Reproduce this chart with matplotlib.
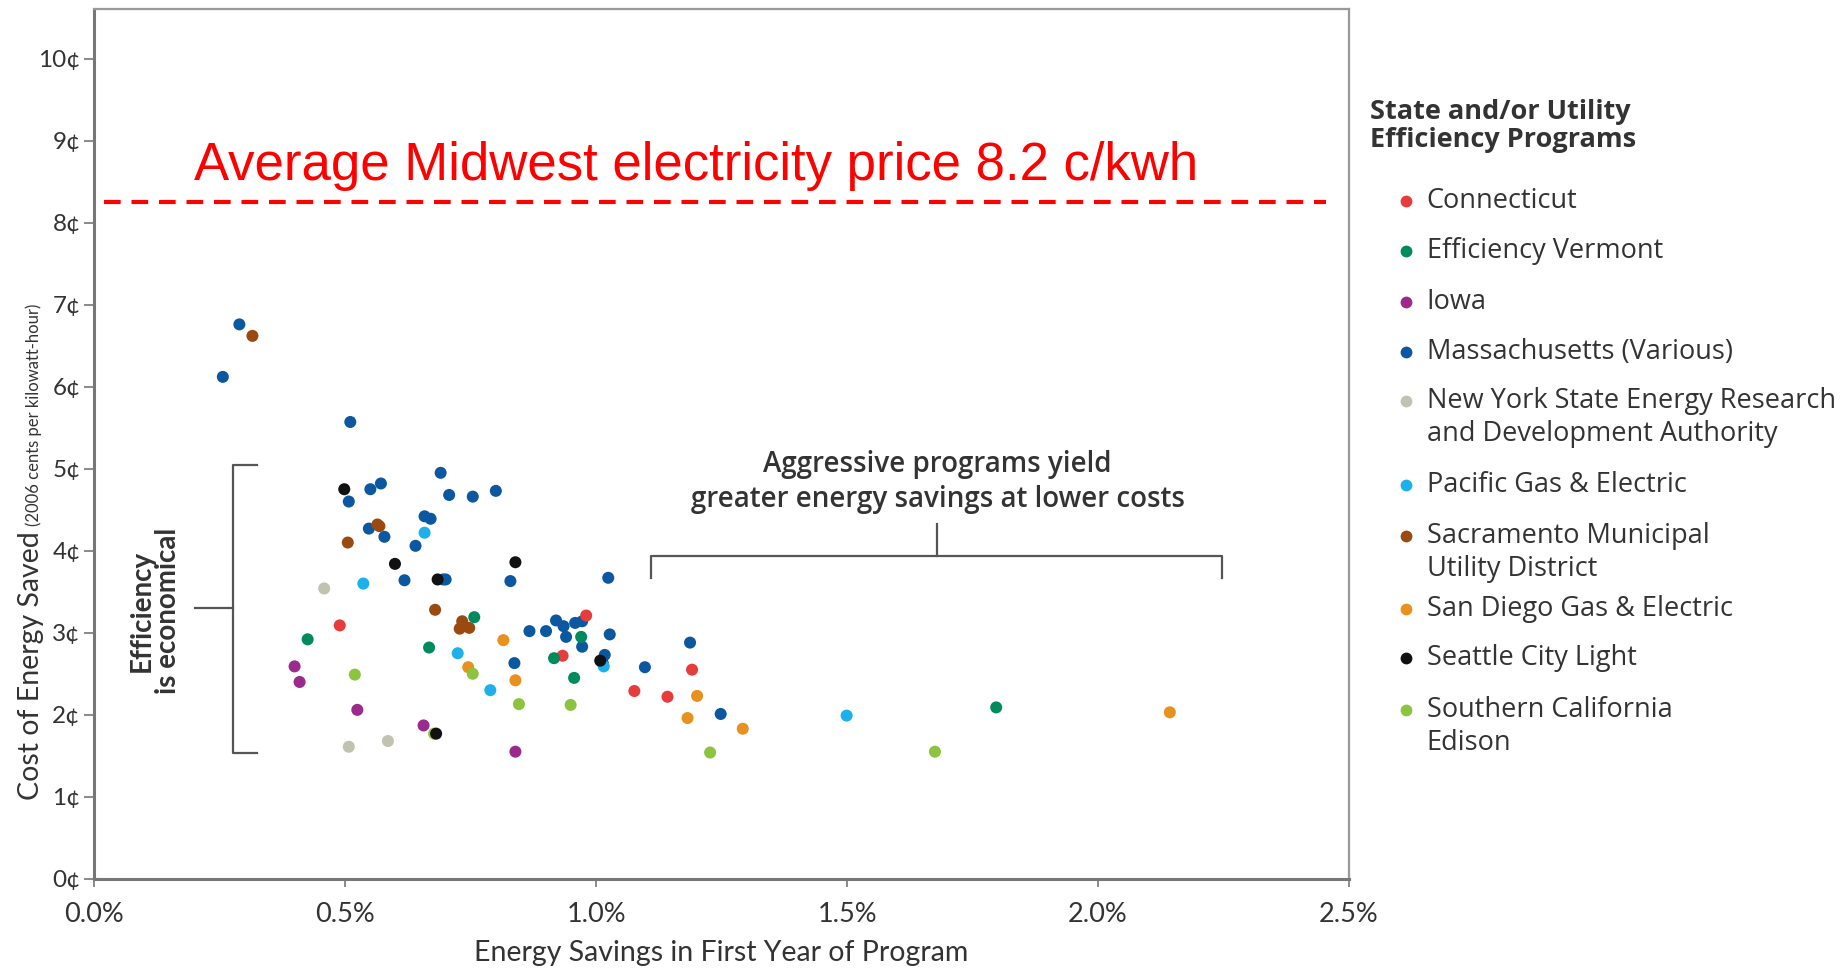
import numpy as np
import matplotlib.pyplot as plt
from matplotlib.lines import Line2D

plt.rcParams['font.family'] = ['Lato', 'DejaVu Sans']

# energy savings in first year (%) / cost of energy saved (cents per kWh)
ct_x = [0.489, 0.98, 0.933, 1.076, 1.142, 1.191]
ct_y = [3.09, 3.21, 2.72, 2.29, 2.22, 2.55]
vt_x = [0.425, 0.757, 0.667, 0.916, 0.97, 0.956, 1.797]
vt_y = [2.92, 3.19, 2.82, 2.69, 2.95, 2.45, 2.09]
ia_x = [0.399, 0.409, 0.524, 0.656, 0.839]
ia_y = [2.59, 2.40, 2.06, 1.87, 1.55]
ma_x = [0.256, 0.289, 0.51, 0.507, 0.55, 0.571, 0.547, 0.578, 0.69, 0.707,
        0.754, 0.80, 0.658, 0.67, 0.64, 0.618, 0.695, 0.70, 0.829, 0.837,
        0.867, 0.90, 0.92, 0.935, 0.94, 0.958, 0.972, 0.972, 1.024, 1.027,
        1.017, 1.013, 1.097, 1.187, 1.248]
ma_y = [6.12, 6.76, 5.57, 4.60, 4.75, 4.82, 4.27, 4.17, 4.95, 4.68,
        4.66, 4.73, 4.42, 4.39, 4.06, 3.64, 3.65, 3.65, 3.63, 2.63,
        3.02, 3.02, 3.15, 3.08, 2.95, 3.12, 3.14, 2.83, 3.67, 2.98,
        2.73, 2.63, 2.58, 2.88, 2.01]
ny_x = [0.458, 0.507, 0.585]
ny_y = [3.54, 1.61, 1.68]
pge_x = [0.536, 0.658, 0.724, 0.789, 1.015, 1.499]
pge_y = [3.60, 4.22, 2.75, 2.30, 2.59, 1.99]
smud_x = [0.315, 0.505, 0.564, 0.568, 0.679, 0.733, 0.728, 0.747]
smud_y = [6.62, 4.10, 4.32, 4.30, 3.28, 3.14, 3.05, 3.06]
sdge_x = [0.815, 0.839, 0.745, 1.182, 1.201, 1.292, 2.143]
sdge_y = [2.91, 2.42, 2.58, 1.96, 2.23, 1.83, 2.03]
scl_x = [0.498, 0.599, 0.839, 0.684, 0.681, 1.008]
scl_y = [4.75, 3.84, 3.86, 3.65, 1.77, 2.66]
sce_x = [0.519, 0.754, 0.677, 0.846, 0.949, 1.227, 1.675]
sce_y = [2.49, 2.50, 1.77, 2.13, 2.12, 1.54, 1.55]

programs = ['Connecticut', 'Efficiency Vermont', 'Iowa', 'Massachusetts (Various)',
            'New York State Energy Research\nand Development Authority',
            'Pacific Gas & Electric', 'Sacramento Municipal\nUtility District',
            'San Diego Gas & Electric', 'Seattle City Light',
            'Southern California\nEdison']
colors = ['#e63c3c', '#008a5e', '#9b2a8d', '#0b58a0', '#c2c2b0',
          '#1eb0ea', '#9a4a10', '#e8911f', '#111111', '#8cc43f']
xs = [ct_x, vt_x, ia_x, ma_x, ny_x, pge_x, smud_x, sdge_x, scl_x, sce_x]
ys = [ct_y, vt_y, ia_y, ma_y, ny_y, pge_y, smud_y, sdge_y, scl_y, sce_y]

avg_price = 8.25
xticks = [0.0, 0.5, 1.0, 1.5, 2.0, 2.5]
yticks = list(range(11))

W, H = 1568, 824  # layout measured on the shrunk reference
OPEN = ['Open Sans', 'DejaVu Sans']


def fx(px):
    return px / W


def fy(py):
    return 1 - py / H


fig = plt.figure(figsize=(18.49, 9.72), dpi=100)
ax = fig.add_axes([fx(80), fy(745), fx(1144) - fx(80), fy(8) - fy(745)])

# draw order: put Massachusetts / SMUD first so the small groups sit on top
order = [3, 6, 5, 0, 1, 2, 4, 7, 9, 8]
for i in order:
    ax.scatter(xs[i], ys[i], s=75, color=colors[i], edgecolors='none', zorder=3)

ax.set_xlim(0, 2.5)
ax.set_ylim(0, 10.6)
ax.set_xticks(xticks)
ax.set_xticklabels(['%.1f%%' % v for v in xticks])
ax.set_yticks(yticks)
ax.set_yticklabels(['%d¢' % v for v in yticks])
ax.tick_params(axis='x', direction='out', length=6, width=1.2, color='#777',
               labelsize=19.5, labelcolor='#333', pad=11)
ax.tick_params(axis='y', direction='out', length=7, width=1.2, color='#777',
               labelsize=17.5, labelcolor='#333', pad=3)
for side in ['left', 'bottom']:
    ax.spines[side].set_color('#777')
    ax.spines[side].set_linewidth(2.2)
for side in ['top', 'right']:
    ax.spines[side].set_color('#999')
    ax.spines[side].set_linewidth(1.6)

ax.set_xlabel('Energy Savings in First Year of Program', fontsize=20.5,
              color='#333', labelpad=9)

# y label in two sizes
fig.text(fx(33), fy(450), 'Cost of Energy Saved', rotation=90,
         rotation_mode='anchor', ha='right', va='baseline', fontsize=20.5,
         color='#333')
fig.text(fx(33), fy(446), '(2006 cents per kilowatt-hour)', rotation=90,
         rotation_mode='anchor', ha='left', va='baseline', fontsize=12,
         color='#333')

# average price line
ax.plot([0.02, 2.455], [avg_price, avg_price], color='red', lw=3,
        dashes=(4, 2.6), zorder=2)
ax.text(1.198, 8.69, 'Average Midwest electricity price 8.2 c/kwh',
        ha='center', va='center', fontsize=38, color='red',
        family=['Liberation Sans', 'DejaVu Sans'])

# bracket: efficiency is economical
bc = '#555'
ax.plot([0.324, 0.277, 0.277, 0.324], [5.04, 5.04, 1.54, 1.54], color=bc, lw=1.6)
ax.plot([0.20, 0.277], [3.3, 3.3], color=bc, lw=1.6)
ax.text(0.12, 3.27, 'Efficiency\nis economical', rotation=90, ha='center',
        va='center', multialignment='center', fontsize=20, fontweight='bold',
        color='#333', linespacing=1.0)

# bracket: aggressive programs
ax.plot([1.109, 1.109, 2.246, 2.246], [3.67, 3.93, 3.93, 3.67], color=bc, lw=1.6)
ax.plot([1.68, 1.68], [3.93, 4.33], color=bc, lw=1.6)
ax.text(1.68, 5.05, 'Aggressive programs yield', ha='center', va='center',
        fontsize=20, fontweight='semibold', color='#333', family=OPEN)
ax.text(1.68, 4.63, 'greater energy savings at lower costs', ha='center',
        va='center', fontsize=20, fontweight='semibold', color='#333', family=OPEN)

# legend drawn by hand to keep the uneven spacing
fig.text(fx(1162), fy(95), 'State and/or Utility', ha='left', va='center',
         fontsize=19.5, fontweight='bold', color='#333', family=OPEN)
fig.text(fx(1162), fy(119), 'Efficiency Programs', ha='left', va='center',
         fontsize=19.5, fontweight='bold', color='#333', family=OPEN)
row_y = [170, 213, 256, 298, 340, 411, 454, 516, 558, 602]
for lab, c, ry in zip(programs, colors, row_y):
    fig.add_artist(Line2D([fx(1192)], [fy(ry)], marker='o', markersize=8.5,
                          color=c, markeredgewidth=0, transform=fig.transFigure))
    for k, line in enumerate(lab.split('\n')):
        fig.text(fx(1210), fy(ry + 28 * k), line, ha='left', va='center',
                 fontsize=19.5, color='#333', family=OPEN)

fig.savefig('out.png', dpi=100, facecolor='white')
